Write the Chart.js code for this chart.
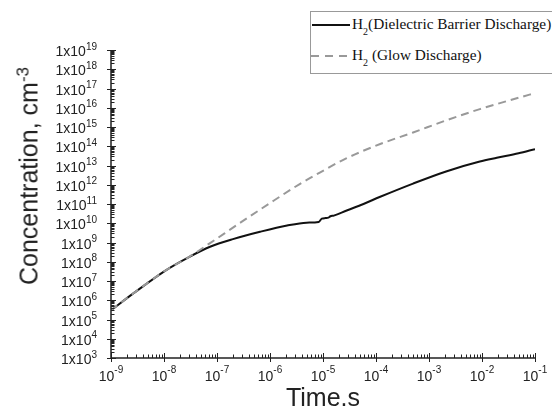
<!DOCTYPE html>
<html>
<head>
<meta charset="utf-8">
<script src="https://cdn.jsdelivr.net/npm/chart.js@4/dist/chart.umd.min.js"></script>
<style>
  body { margin: 0; background: #fff; }
  #wrap { position: relative; width: 552px; height: 412px; overflow: hidden; background: #fff; }
  #chart { position: absolute; left: 0; top: 0; }
  .title { position: absolute; font-family: "Liberation Sans", Arial, sans-serif; font-size: 25px; color: #222;
           white-space: nowrap; line-height: 1; transform: translate(-50%, -50%); }
  .title sup { font-size: 17px; vertical-align: 9px; line-height: 0; }
  #ytitle { left: 29px; top: 176px; transform: translate(-50%, -50%) rotate(-90deg); }
  #xtitle { left: 323px; top: 397px; }
  #legend { position: absolute; left: 310px; top: 11px; width: 260px; height: 61px; border: 1px solid #999; background: #fff; }
  .sample { position: absolute; height: 2px; }
  .lbl { position: absolute; font-family: "Liberation Serif", "Times New Roman", serif; font-size: 15.3px;
         line-height: 16px; color: #111; white-space: nowrap; }
  .lbl .s { font-size: 10px; position: relative; top: 6px; }
</style>
</head>
<body>
<div id="wrap">
  <canvas id="chart" width="552" height="412"></canvas>
  <div class="title" id="ytitle">Concentration, cm<sup>-3</sup></div>
  <div class="title" id="xtitle">Time.s</div>
  <div id="legend"></div>
  <div class="sample" style="left:312px; top:24px; width:38px; background:#111;"></div>
  <div class="lbl" style="left:352px; top:16px;">H<span class="s">2</span>(Dielectric Barrier Discharge)</div>
  <div class="sample" style="left:311px; top:55px; width:37px; background:repeating-linear-gradient(90deg,#999 0 8px,transparent 8px 14px);"></div>
  <div class="lbl" style="left:352px; top:47px;">H<span class="s">2</span> (Glow Discharge)</div>
</div>
<script>
// H2 (Dielectric Barrier Discharge) - solid black
const dbdTime = [1e-9, 2.6e-9, 1.1e-8, 2.9e-8, 7.4e-8, 2.0e-7, 6.5e-7, 2.1e-6, 4.9e-6, 8.3e-6,
                 9.5e-6, 1.12e-5, 1.26e-5, 1.38e-5, 1.6e-5, 2.8e-5, 5.8e-5, 1.17e-4, 5.0e-4,
                 2.1e-3, 9.1e-3, 1.9e-2, 4.9e-2, 1e-1];
const dbdConc = [3.0e5, 2.2e6, 3.7e7, 1.7e8, 6.0e8, 1.5e9, 3.6e9, 7.6e9, 1.07e10, 1.17e10,
                 1.74e10, 1.86e10, 1.95e10, 2.3e10, 2.5e10, 4.6e10, 1.0e11, 2.3e11, 1.15e12,
                 4.9e12, 1.6e13, 2.5e13, 4.3e13, 7.1e13];

// H2 (Glow Discharge) - dashed grey
const glowTime = [1e-9, 2.6e-9, 1.1e-8, 2.9e-8, 7.4e-8, 2.5e-7, 1.0e-6, 3.7e-6, 6.6e-6, 2.8e-5,
                  1.2e-4, 5.0e-4, 2.1e-3, 9.1e-3, 4.9e-2, 1e-1];
const glowConc = [3.0e5, 2.2e6, 3.7e7, 1.7e8, 9.3e8, 8.9e9, 1.12e11, 1.12e12, 2.8e12, 2.4e13,
                  1.3e14, 5.2e14, 2.2e15, 8.5e15, 3.3e16, 5.8e16];

// tick labels (decade exponents)
const xTickExps = [-9, -8, -7, -6, -5, -4, -3, -2, -1];
const yTickExps = [3, 4, 5, 6, 7, 8, 9, 10, 11, 12, 13, 14, 15, 16, 17, 18, 19];

function toPoints(xs, ys) {
  return xs.map((x, i) => ({ x: x, y: ys[i] }));
}

const FONT = '"Liberation Sans", Arial, sans-serif';

// axis lines, log ticks and superscript labels
const axesPlugin = {
  id: 'axesDraw',
  afterDraw(chart) {
    const ctx = chart.ctx;
    const a = chart.chartArea;
    const xs = chart.scales.x, ys = chart.scales.y;
    ctx.save();
    ctx.strokeStyle = '#222';
    ctx.fillStyle = '#222';

    ctx.lineWidth = 1.5;
    ctx.beginPath();
    ctx.moveTo(a.left, a.top);
    ctx.lineTo(a.left, a.bottom);
    ctx.lineTo(a.right, a.bottom);
    ctx.stroke();

    ctx.lineWidth = 1;
    ctx.beginPath();
    yTickExps.forEach((e, i) => {
      const py = Math.round(ys.getPixelForValue(Math.pow(10, e))) + 0.5;
      ctx.moveTo(a.left - 4, py); ctx.lineTo(a.left + 5, py);
      if (i < yTickExps.length - 1) {
        for (let k = 2; k <= 9; k++) {
          const my = Math.round(ys.getPixelForValue(k * Math.pow(10, e))) + 0.5;
          ctx.moveTo(a.left, my); ctx.lineTo(a.left + 3.5, my);
        }
      }
    });
    xTickExps.forEach((e, i) => {
      const px = Math.round(xs.getPixelForValue(Math.pow(10, e))) + 0.5;
      ctx.moveTo(px, a.bottom + 4); ctx.lineTo(px, a.bottom - 5);
      if (i < xTickExps.length - 1) {
        for (let k = 2; k <= 9; k++) {
          const mx = Math.round(xs.getPixelForValue(k * Math.pow(10, e))) + 0.5;
          ctx.moveTo(mx, a.bottom); ctx.lineTo(mx, a.bottom - 3.5);
        }
      }
    });
    ctx.stroke();

    // y labels: 1x10^n
    ctx.textBaseline = 'alphabetic';
    ctx.textAlign = 'left';
    yTickExps.forEach(e => {
      const py = ys.getPixelForValue(Math.pow(10, e));
      const sup = String(e);
      ctx.font = '10px ' + FONT;
      const wSup = ctx.measureText(sup).width;
      ctx.font = '14px ' + FONT;
      const wBase = ctx.measureText('1x10').width;
      const right = 97;
      ctx.fillText('1x10', right - wSup - wBase, py + 6);
      ctx.font = '10px ' + FONT;
      ctx.fillText(sup, right - wSup, py - 0.5);
    });

    // x labels: 10^n
    xTickExps.forEach(e => {
      const px = xs.getPixelForValue(Math.pow(10, e));
      const sup = String(e);
      ctx.font = '10px ' + FONT;
      const wSup = ctx.measureText(sup).width;
      ctx.font = '14px ' + FONT;
      const wBase = ctx.measureText('10').width;
      const left = px - (wBase + wSup) / 2;
      ctx.fillText('10', left, a.bottom + 23);
      ctx.font = '10px ' + FONT;
      ctx.fillText(sup, left + wBase, a.bottom + 15);
    });
    ctx.restore();
  }
};

new Chart(document.getElementById('chart'), {
  type: 'scatter',
  data: {
    datasets: [
      {
        label: 'H2 (Dielectric Barrier Discharge)',
        data: toPoints(dbdTime, dbdConc),
        showLine: true,
        borderColor: '#111',
        borderWidth: 2,
        pointRadius: 0,
        cubicInterpolationMode: 'monotone',
        order: 1
      },
      {
        label: 'H2 (Glow Discharge)',
        data: toPoints(glowTime, glowConc),
        showLine: true,
        borderColor: '#999',
        borderWidth: 2,
        borderDash: [8, 5],
        pointRadius: 0,
        cubicInterpolationMode: 'monotone',
        order: 0
      }
    ]
  },
  options: {
    responsive: false,
    devicePixelRatio: 1,
    animation: false,
    layout: { padding: { top: 50, right: 17, left: 0, bottom: 0 } },
    plugins: {
      legend: { display: false },
      tooltip: { enabled: false }
    },
    scales: {
      x: {
        type: 'logarithmic',
        min: 1e-9,
        max: 1e-1,
        grid: { display: false },
        border: { display: false },
        ticks: { display: false },
        afterFit: (scale) => { scale.height = 54; }
      },
      y: {
        type: 'logarithmic',
        min: 1e3,
        max: 1e19,
        grid: { display: false },
        border: { display: false },
        ticks: { display: false },
        afterFit: (scale) => { scale.width = 111; }
      }
    }
  },
  plugins: [axesPlugin]
});
</script>
</body>
</html>
